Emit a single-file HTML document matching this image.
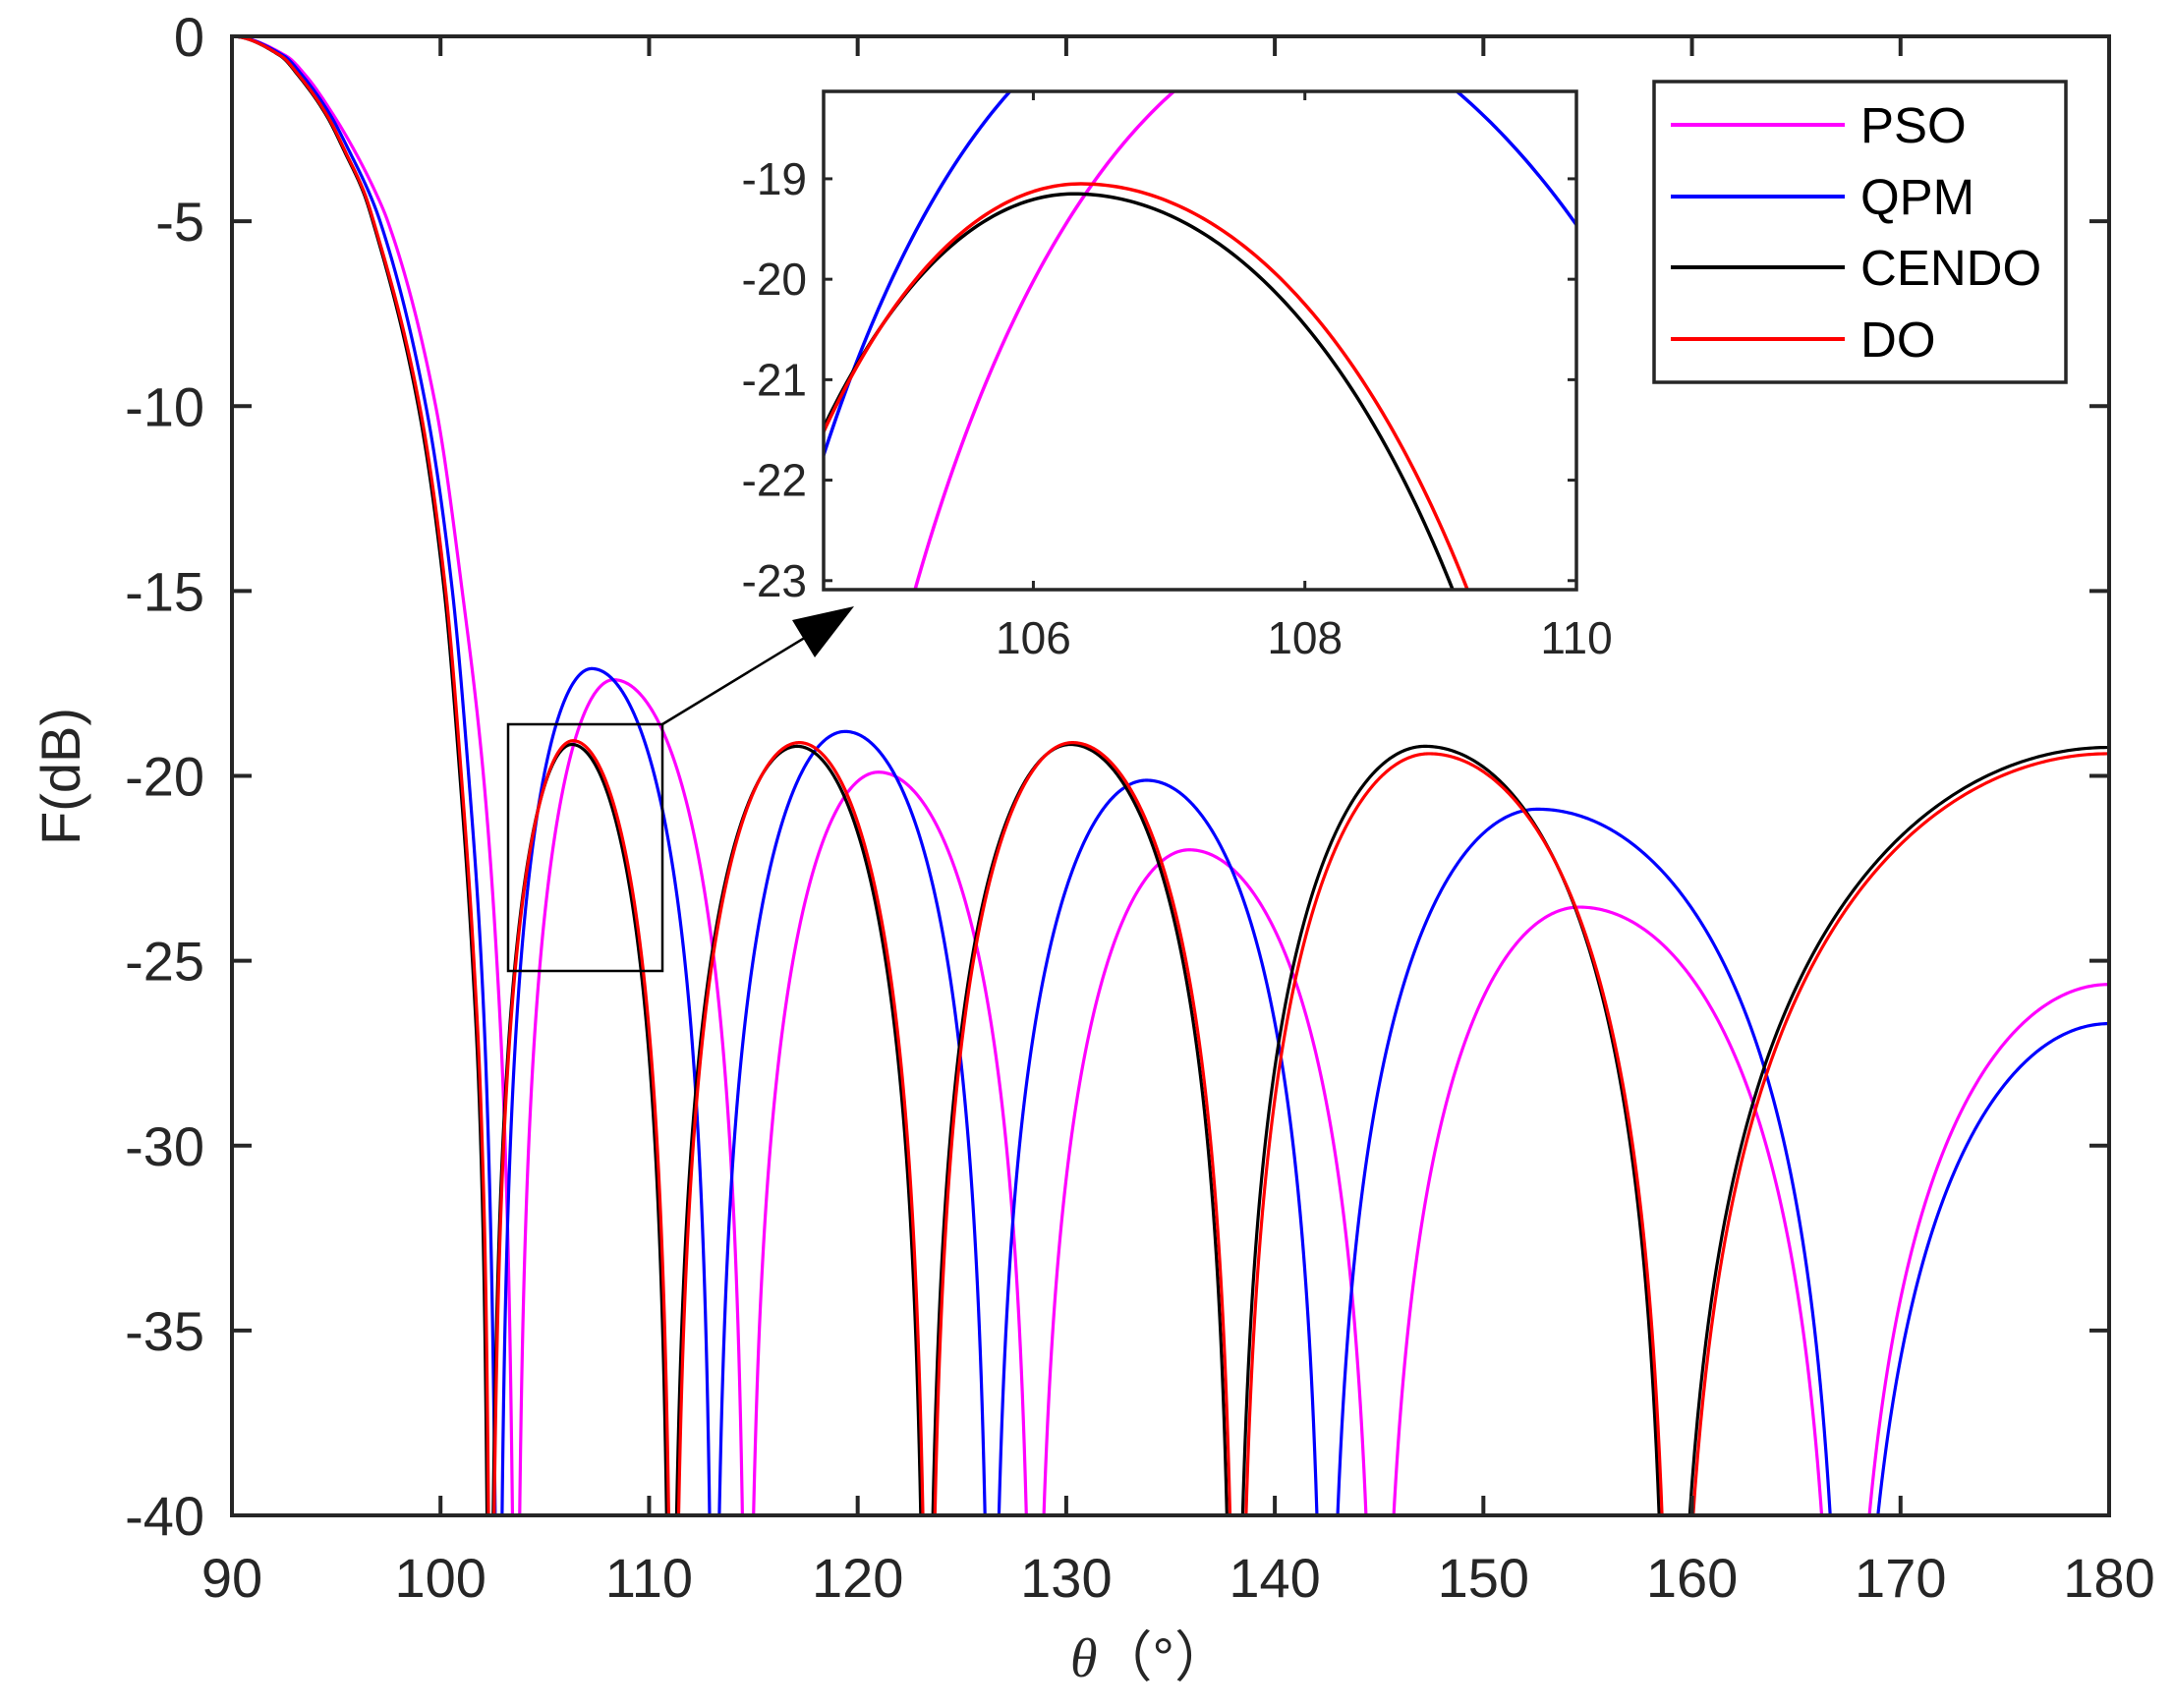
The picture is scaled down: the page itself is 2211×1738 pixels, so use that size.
<!DOCTYPE html>
<html><head><meta charset="utf-8"><style>
html,body{margin:0;padding:0;background:#fff;overflow:hidden;width:2211px;height:1738px;}
svg{display:block;position:absolute;left:0;top:0;}
script{display:none;}
text{font-family:"Liberation Sans",Arial,sans-serif;fill:#262626;}
</style></head><body>
<svg id="chart" xmlns="http://www.w3.org/2000/svg" width="2211" height="1738" viewBox="0 0 2211 1738">
<defs>
<clipPath id="mainClip"><rect x="236" y="37" width="1910" height="1505"/></clipPath>
<clipPath id="insetClip"><rect x="838" y="93" width="766" height="507"/></clipPath>
</defs>
<rect x="0" y="0" width="2211" height="1738" fill="#fff"/>
<g id="mainSeries" clip-path="url(#mainClip)"></g>
<g id="mainAxes"></g>
<rect x="517" y="737" width="157" height="251" fill="none" stroke="#000" stroke-width="2.5"/>
<line x1="674" y1="737" x2="840" y2="636" stroke="#000" stroke-width="2.5"/>
<polygon points="869,617 806,631 829,669" fill="#000"/>
<rect x="838" y="93" width="766" height="507" fill="#fff"/>
<g id="insetSeries" clip-path="url(#insetClip)"></g>
<g id="insetAxes"></g>
<g>
<rect x="1683" y="83" width="419" height="306" fill="#fff" stroke="#262626" stroke-width="3.5"/>
<line x1="1700" y1="127" x2="1877" y2="127" stroke="#ff00ff" stroke-width="4"/>
<text x="1893" y="145" font-size="51" style="fill:#000">PSO</text>
<line x1="1700" y1="200" x2="1877" y2="200" stroke="#0000ff" stroke-width="4"/>
<text x="1893" y="218" font-size="51" style="fill:#000">QPM</text>
<line x1="1700" y1="272" x2="1877" y2="272" stroke="#000000" stroke-width="4"/>
<text x="1893" y="290" font-size="51" style="fill:#000">CENDO</text>
<line x1="1700" y1="345" x2="1877" y2="345" stroke="#ff0000" stroke-width="4"/>
<text x="1893" y="363" font-size="51" style="fill:#000">DO</text>
</g>
<text x="66" y="790" font-size="56" text-anchor="middle" transform="rotate(-90 66 790)" dominant-baseline="middle">F(dB)</text>
<text x="1170" y="1706" font-size="56" text-anchor="middle"><tspan style="font-family:'Liberation Serif',serif;font-style:italic">θ</tspan><tspan style="font-family:'Liberation Sans','Noto Sans CJK SC',sans-serif">（°）</tspan></text>
</svg>
<script>
// ---- data ----
const xTicks = [90,100,110,120,130,140,150,160,170,180];
const yTicks = [0,-5,-10,-15,-20,-25,-30,-35,-40];
const insetXTicks = [106,108,110];
const insetYTicks = [-19,-20,-21,-22,-23];
const seriesNames = ["PSO","QPM","CENDO","DO"];
const seriesColors = ["#ff00ff","#0000ff","#000000","#ff0000"];

// main-lobe samples (theta, dB)
const psoMainTheta   = [90,92.6,93.54,94.87,95.97,96.92,97.47,99.77,101.04,102.06,102.7,103.1,103.45,103.63];
const psoMainDb      = [0,-0.53,-1.06,-2.13,-3.19,-4.26,-5,-10,-15,-20,-25,-30,-40,-60];
const qpmMainTheta   = [90,92.5,93.38,94.72,95.7,96.6,97.1,99.3,100.57,101.35,101.95,102.3,102.62,102.8];
const qpmMainDb      = [0,-0.53,-1.06,-2.13,-3.19,-4.26,-5,-10,-15,-20,-25,-30,-40,-60];
const cendoMainTheta = [90,92.33,93.18,94.52,95.46,96.33,96.75,98.93,100.18,100.93,101.53,101.93,102.23,102.35];
const cendoMainDb    = [0,-0.53,-1.06,-2.13,-3.19,-4.26,-5,-10,-15,-20,-25,-30,-40,-60];
const doMainTheta    = [90,92.36,93.22,94.56,95.5,96.37,96.79,99.0,100.25,101.0,101.6,102.0,102.3,102.4];
const doMainDb       = [0,-0.53,-1.06,-2.13,-3.19,-4.26,-5,-10,-15,-20,-25,-30,-40,-60];

// sidelobe nulls, peak positions and peak levels
const psoNulls   = [103.63,114.7,128.45,144.95,167.2];
const psoPeakTheta = [108.3,121.0,135.9,154.6,180];
const psoPeakDb    = [-17.4,-19.9,-22.0,-23.55,-25.64];
const qpmNulls   = [102.8,113.1,126.4,142.45,167.45];
const qpmPeakTheta = [107.25,119.4,133.85,152.6,180];
const qpmPeakDb    = [-17.1,-18.8,-20.12,-20.9,-26.7];
const cendoNulls = [102.35,111.05,123.3,138.05,158.95];
const cendoPeakTheta = [106.3,117.1,130.2,147.2,180];
const cendoPeakDb    = [-19.15,-19.2,-19.15,-19.2,-19.23];
const doNulls    = [102.4,111.15,123.4,138.2,159.1];
const doPeakTheta = [106.35,117.2,130.3,147.4,180];
const doPeakDb    = [-19.05,-19.1,-19.1,-19.4,-19.4];

const mainThetas = [psoMainTheta,qpmMainTheta,cendoMainTheta,doMainTheta];
const mainDbs = [psoMainDb,qpmMainDb,cendoMainDb,doMainDb];
const nullSets = [psoNulls,qpmNulls,cendoNulls,doNulls];
const peakThetaSets = [psoPeakTheta,qpmPeakTheta,cendoPeakTheta,doPeakTheta];
const peakDbSets = [psoPeakDb,qpmPeakDb,cendoPeakDb,doPeakDb];

// ---- axes ----
const X0=236, X1=2146, Y0=37, Y1=1542;
const xS = t => X0 + (t-90)/(180-90)*(X1-X0);
const yS = d => Y0 + (0-d)/(40)*(Y1-Y0);
const IX0=838, IX1=1604, IY0=93, IY1=600;
const ixMin=104.455, ixMax=110, iyMax=-18.13, iyMin=-23.09;
const ixS = t => IX0 + (t-ixMin)/(ixMax-ixMin)*(IX1-IX0);
const iyS = d => IY0 + (iyMax-d)/(iyMax-iyMin)*(IY1-IY0);
const NS="http://www.w3.org/2000/svg";
function mk(tag, attrs, parent){const e=document.createElementNS(NS,tag);for(const k in attrs)e.setAttribute(k,attrs[k]);parent.appendChild(e);return e;}

// monotone cubic (Fritsch-Carlson) through samples
function monotone(xs, ys){
  const n=xs.length, h=[], s=[], m=new Array(n);
  for(let i=0;i<n-1;i++){h.push(xs[i+1]-xs[i]); s.push((ys[i+1]-ys[i])/h[i]);}
  m[0]=0; m[n-1]=s[n-2];
  for(let i=1;i<n-1;i++){
    if(s[i-1]*s[i]<=0) m[i]=0;
    else { const w1=2*h[i]+h[i-1], w2=h[i]+2*h[i-1]; m[i]=(w1+w2)/(w1/s[i-1]+w2/s[i]); }
  }
  const pts=[];
  for(let i=0;i<n-1;i++){
    for(let k=0;k<30;k++){
      const u=k/30, u2=u*u, u3=u2*u;
      const h00=2*u3-3*u2+1, h10=u3-2*u2+u, h01=-2*u3+3*u2, h11=u3-u2;
      pts.push([xs[i]+u*h[i], h00*ys[i]+h10*h[i]*m[i]+h01*ys[i+1]+h11*h[i]*m[i+1]]);
    }
  }
  pts.push([xs[n-1],ys[n-1]]);
  return pts;
}
function lobe(a, pk, b, P){
  const K=0.9, pts=[];
  const N=160;
  for(let i=0;i<=N;i++){const t=a+(pk-a)*i/N; const g=(t-a)/(pk-a);
    pts.push([t, P+K*20*Math.log10(Math.max(Math.sin(Math.PI*g/2),1e-4))]);}
  if(b!==null){for(let i=1;i<=N;i++){const t=pk+(b-pk)*i/N; const g=(b-t)/(b-pk);
    pts.push([t, P+K*20*Math.log10(Math.max(Math.sin(Math.PI*g/2),1e-4))]);}}
  return pts.map(p=>[p[0],Math.max(p[1],-80)]);
}
function seriesSegments(i){
  const segs=[monotone(mainThetas[i],mainDbs[i])];
  const nl=nullSets[i], pt=peakThetaSets[i], pd=peakDbSets[i];
  for(let k=0;k<pt.length;k++){
    const a=nl[k], b=(k+1<nl.length)?nl[k+1]:null;
    segs.push(lobe(a,pt[k],b,pd[k]));
  }
  return segs;
}
function pathD(segs, fx, fy){
  return segs.map(s=>s.map((p,j)=>(j?'L':'M')+fx(p[0]).toFixed(2)+' '+fy(p[1]).toFixed(2)).join('')).join('');
}
const mainG=document.getElementById('mainSeries');
const insetG=document.getElementById('insetSeries');
for(let i=0;i<4;i++){
  const segs=seriesSegments(i);
  const p=mk('path',{d:pathD(segs,xS,yS),fill:'none',stroke:seriesColors[i],'stroke-width':3.2,'stroke-linejoin':'round'},mainG);
  
  
  const q=mk('path',{d:pathD(segs,ixS,iyS),fill:'none',stroke:seriesColors[i],'stroke-width':3.5,'stroke-linejoin':'round'},insetG);
  
  
}
// main axes
const ax=document.getElementById('mainAxes');
const fr=mk('rect',{x:X0,y:Y0,width:X1-X0,height:Y1-Y0,fill:'none',stroke:'#262626','stroke-width':4},ax);


xTicks.forEach(t=>{
  const x=xS(t);
  mk('line',{x1:x,y1:Y1,x2:x,y2:Y1-20,stroke:'#262626','stroke-width':4},ax);
  mk('line',{x1:x,y1:Y0,x2:x,y2:Y0+20,stroke:'#262626','stroke-width':4},ax);
  const tx=mk('text',{x:x,y:1625,'font-size':56,'text-anchor':'middle'},ax);
  tx.textContent=t;
  
  
});
yTicks.forEach(d=>{
  const y=yS(d);
  mk('line',{x1:X0,y1:y,x2:X0+20,y2:y,stroke:'#262626','stroke-width':4},ax);
  mk('line',{x1:X1,y1:y,x2:X1-20,y2:y,stroke:'#262626','stroke-width':4},ax);
  const tx=mk('text',{x:208,y:y+20,'font-size':56,'text-anchor':'end'},ax);
  tx.textContent=d;
  
  
});
// inset axes
const iax=document.getElementById('insetAxes');
const ifr=mk('rect',{x:IX0,y:IY0,width:IX1-IX0,height:IY1-IY0,fill:'none',stroke:'#262626','stroke-width':3.5},iax);


insetXTicks.forEach(t=>{
  const x=ixS(t);
  mk('line',{x1:x,y1:IY1,x2:x,y2:IY1-9,stroke:'#262626','stroke-width':3},iax);
  mk('line',{x1:x,y1:IY0,x2:x,y2:IY0+9,stroke:'#262626','stroke-width':3},iax);
  const tx=mk('text',{x:x,y:665,'font-size':46,'text-anchor':'middle'},iax);
  tx.textContent=t;
  
  
});
insetYTicks.forEach(d=>{
  const y=iyS(d);
  mk('line',{x1:IX0,y1:y,x2:IX0+9,y2:y,stroke:'#262626','stroke-width':3},iax);
  mk('line',{x1:IX1,y1:y,x2:IX1-9,y2:y,stroke:'#262626','stroke-width':3},iax);
  const tx=mk('text',{x:821,y:y+16,'font-size':46,'text-anchor':'end'},iax);
  tx.textContent=d;
  
  
});
</script>
</body></html>
